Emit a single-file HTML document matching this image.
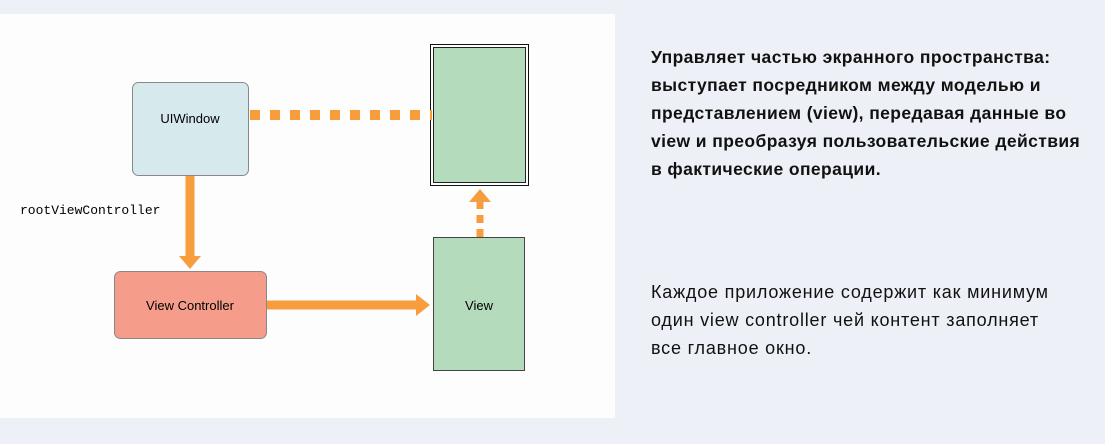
<!DOCTYPE html>
<html><head><meta charset="utf-8"><style>
body{margin:0;width:1105px;height:444px;background:#edf0f6;position:relative;overflow:hidden;font-family:"Liberation Sans",sans-serif}
.p{position:absolute;left:651px;font-size:18px;color:#111;line-height:28px;white-space:nowrap}
</style></head><body>
<div style="position:absolute;left:0;top:14px;width:615px;height:404px;background:#fdfdfd"></div>
<svg width="615" height="444" style="position:absolute;left:0;top:0">
<rect x="132.5" y="82.5" width="116" height="93" rx="6" fill="#d6e9ec" stroke="#888"/>
<text x="190" y="123" font-size="13" text-anchor="middle" font-family="Liberation Sans">UIWindow</text>
<rect x="430.5" y="44.5" width="98" height="141" fill="#fff" stroke="#111"/>
<rect x="433.5" y="47.5" width="92" height="135" fill="#b3dbbc" stroke="#222"/>
<rect x="433.5" y="237.5" width="91" height="133" fill="#b3dbbc" stroke="#444"/>
<text x="479" y="310" font-size="13" text-anchor="middle" font-family="Liberation Sans">View</text>
<rect x="114.5" y="271.5" width="152" height="67" rx="6" fill="#f59d8a" stroke="#888"/>
<text x="190" y="310" font-size="13" text-anchor="middle" font-family="Liberation Sans">View Controller</text>
<line x1="250" y1="115" x2="432" y2="115" stroke="#f89d3e" stroke-width="10" stroke-dasharray="10,10"/>
<line x1="190" y1="176" x2="190" y2="258" stroke="#f89d3e" stroke-width="9"/>
<polygon points="179,256 201,256 190,269" fill="#f89d3e"/>
<line x1="267" y1="305" x2="418" y2="305" stroke="#f89d3e" stroke-width="9"/>
<polygon points="416,294 430,305 416,316" fill="#f89d3e"/>
<line x1="480" y1="237" x2="480" y2="202" stroke="#f89d3e" stroke-width="7" stroke-dasharray="8,6"/>
<polygon points="469,202 491,202 480,189" fill="#f89d3e"/>
<text x="20" y="214" font-size="13" font-family="Liberation Mono">rootViewController</text>
</svg>
<div class="p" style="top:43px;font-weight:bold;font-size:17.5px;letter-spacing:0.4px">Управляет частью экранного пространства:<br>выступает посредником между моделью и<br>представлением (view), передавая данные во<br>view и преобразуя пользовательские действия<br>в фактические операции.</div>
<div class="p" style="top:278px;letter-spacing:0.8px">Каждое приложение содержит как минимум<br>один view controller чей контент заполняет<br>все главное окно.</div>
</body></html>
